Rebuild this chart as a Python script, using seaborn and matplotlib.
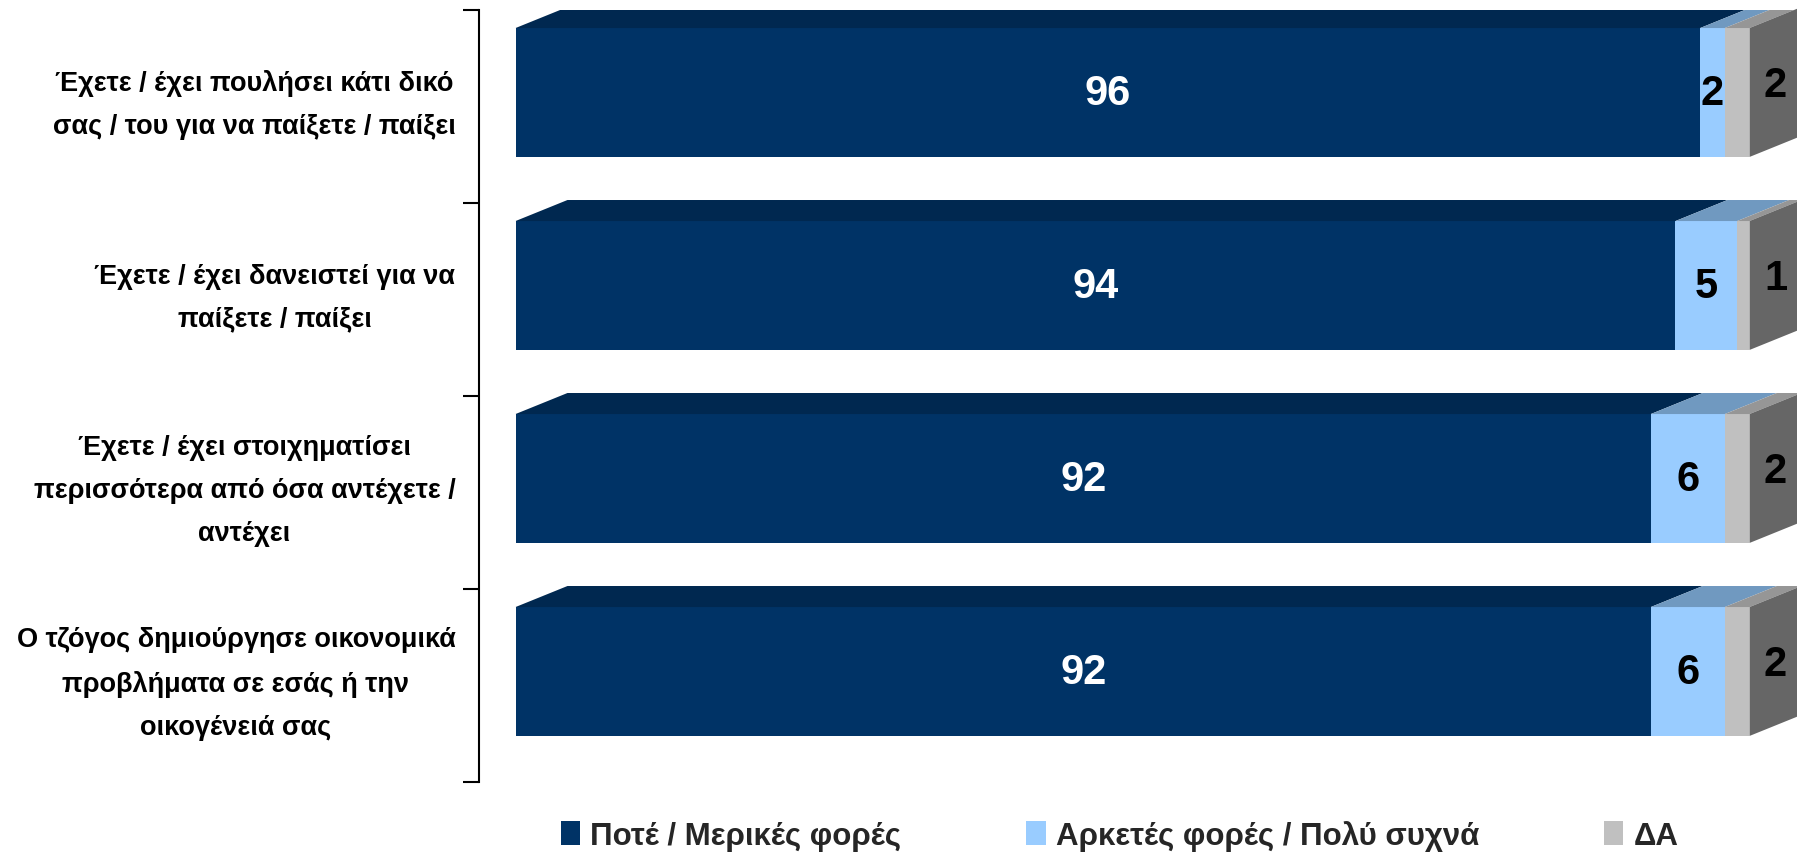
import matplotlib
matplotlib.use("Agg")
import matplotlib.pyplot as plt
from matplotlib import font_manager
from matplotlib.patches import Polygon
import numpy as np
import seaborn as sns

# --- data -------------------------------------------------------------------
categories = [
    "Έχετε / έχει πουλήσει κάτι δικό\nσας / του για να παίξετε / παίξει",
    "Έχετε / έχει δανειστεί για να\nπαίξετε / παίξει",
    "Έχετε / έχει στοιχηματίσει\nπερισσότερα από όσα αντέχετε /\nαντέχει",
    "Ο τζόγος δημιούργησε οικονομικά\nπροβλήματα σε εσάς ή την\nοικογένειά σας",
]
never_some = [96, 94, 92, 92]
often = [2, 5, 6, 6]
dont_know = [2, 1, 2, 2]
series_names = ["Ποτέ / Μερικές φορές", "Αρκετές φορές / Πολύ συχνά", "ΔΑ"]

# --- style ------------------------------------------------------------------
front_colors = ["#003366", "#99CCFF", "#C0C0C0"]
top_colors = ["#002850", "#7099C0", "#969696"]
side_color = "#666666"
value_colors = ["white", "black", "black"]

BAR_H = 0.668          # bar thickness in category units
DX, DY = 4.21, 0.109   # 3D depth offset (x units, category units)

sns.set_theme(style="white")
available = {f.name for f in font_manager.fontManager.ttflist}
NARROW = "Liberation Sans Narrow" if "Liberation Sans Narrow" in available else "Liberation Sans"
plt.rcParams["font.family"] = ["Liberation Sans", "DejaVu Sans"]

fig = plt.figure(figsize=(17.97, 8.54), dpi=100)
ax = fig.add_axes([479 / 1797, 1 - 783 / 854, 1318 / 1797, 772 / 854])

values = np.array([never_some, often, dont_know], dtype=float)
cum = np.cumsum(values, axis=0)

# stacked bars: draw totals back to front
for k in reversed(range(3)):
    sns.barplot(x=cum[k], y=categories, orient="h", color=front_colors[k],
                saturation=1, width=BAR_H, linewidth=0, label=series_names[k], ax=ax)
if ax.get_legend() is not None:
    ax.get_legend().remove()

ax.set_xlim(-2.96, 103.85)
ax.set_ylim(3.5725, -0.4275)

# 3D top faces and right side face
for i in range(len(categories)):
    top = i - BAR_H / 2
    for k in range(3):
        left, right = cum[k][i] - values[k][i], cum[k][i]
        ax.add_patch(Polygon([(left, top), (right, top), (right + DX, top - DY), (left + DX, top - DY)],
                             closed=True, facecolor=top_colors[k], edgecolor="none"))
    end = cum[2][i]
    ax.add_patch(Polygon([(end, top), (end, top + BAR_H), (end + DX, top + BAR_H - DY), (end + DX, top - DY)],
                         closed=True, facecolor=side_color, edgecolor="none", clip_on=False))

# value labels
for i in range(len(categories)):
    for k in range(2):
        ax.text(cum[k][i] - values[k][i] / 2, i, f"{values[k][i]:.0f}", ha="center", va="center",
                color=value_colors[k], fontsize=30, fontweight="bold", family=[NARROW, "DejaVu Sans"])
    ax.text(cum[2][i] + DX / 2, i - DY * 0.35, f"{values[2][i]:.0f}", ha="center", va="center",
            color=value_colors[2], fontsize=30, fontweight="bold", family=[NARROW, "DejaVu Sans"])

# axis: bracket on the left
sns.despine(ax=ax, top=True, right=True, bottom=True)
ax.spines["left"].set_color("black")
ax.spines["left"].set_linewidth(1.5)
ax.set_xticks([])
ax.set_xlabel("")
ax.set_ylabel("")
ax.set_yticks(np.linspace(ax.get_ylim()[1], ax.get_ylim()[0], len(categories) + 1), minor=True)
ax.tick_params(axis="y", which="minor", left=True, length=11.5, width=1.5, color="black", direction="out")
ax.tick_params(axis="y", which="major", left=False, length=0, pad=17)
for lbl in ax.get_yticklabels():
    lbl.set_fontsize(19.5)
    lbl.set_fontweight("bold")
    lbl.set_color("black")
    lbl.set_horizontalalignment("right")
    lbl.set_multialignment("center")
    lbl.set_linespacing(1.85)

# legend
handles, labels = ax.get_legend_handles_labels()
fig.legend(handles[::-1], labels[::-1], loc="center", bbox_to_anchor=(0.623, 0.021), ncol=3,
           frameon=False, prop={"family": [NARROW, "DejaVu Sans"], "weight": "bold", "size": 22.5},
           handlelength=0.62, handleheight=0.8, handletextpad=0.32, columnspacing=4.0)

fig.savefig("out.png", dpi=100)
